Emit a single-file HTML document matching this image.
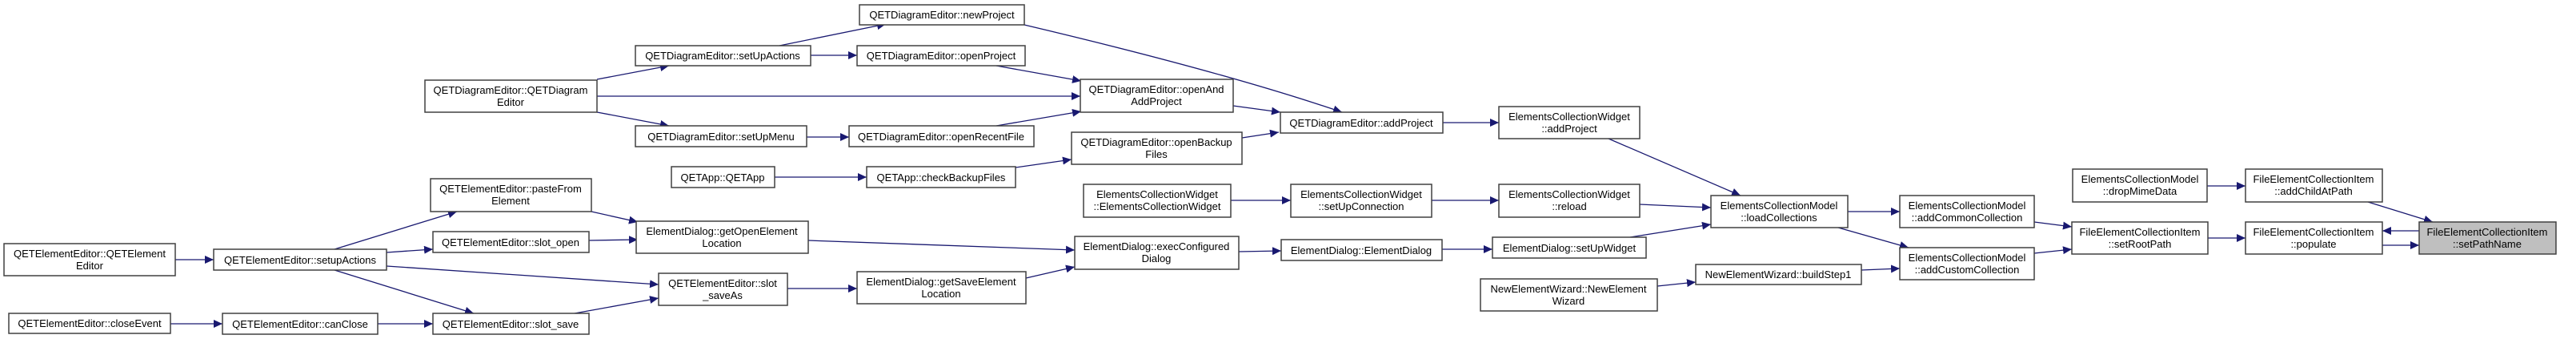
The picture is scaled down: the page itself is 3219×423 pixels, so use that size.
<!DOCTYPE html>
<html><head><meta charset="utf-8"><style>
html,body{margin:0;padding:0;background:#fff;}
svg{display:block;}
text{font-family:"Liberation Sans",Arial,sans-serif;font-size:13px;fill:#000;text-anchor:middle;}
rect{fill:#fff;stroke:#404040;stroke-width:1.5;}
.e{fill:none;stroke:#191970;stroke-width:1.3;marker-end:url(#a);}
</style></head><body>
<svg width="3219" height="423" viewBox="0 0 3219 423" xmlns="http://www.w3.org/2000/svg">
<defs><marker id="a" markerUnits="userSpaceOnUse" markerWidth="12" markerHeight="10" refX="11" refY="5" orient="auto"><path d="M0,0 L11,5 L0,10 Z" fill="#191970"/></marker></defs>

<!-- edges -->
<path class="e" d="M219,324 L267,324"/>
<path class="e" d="M213,404 L278,404"/>
<path class="e" d="M472,404 L541,404"/>
<path class="e" d="M418,311 L571,264"/>
<path class="e" d="M483,315 L541,311"/>
<path class="e" d="M483,332 L823,355"/>
<path class="e" d="M418,337 L592,391"/>
<path class="e" d="M739,264 L797,277"/>
<path class="e" d="M736,300 L797,299"/>
<path class="e" d="M718,391 L823,372"/>
<path class="e" d="M984,360 L1071,360"/>
<path class="e" d="M1282,347 L1343,333"/>
<path class="e" d="M1010,300 L1343,312"/>
<path class="e" d="M1548,314 L1601,313"/>
<path class="e" d="M746,99 L836,82"/>
<path class="e" d="M746,120 L1350,120"/>
<path class="e" d="M746,140 L836,157"/>
<path class="e" d="M974,57 L1107,30"/>
<path class="e" d="M1013,69 L1071,69"/>
<path class="e" d="M1245,82 L1351,101"/>
<path class="e" d="M1008,171 L1061,171"/>
<path class="e" d="M1245,157 L1351,139"/>
<path class="e" d="M1541,132 L1600,140"/>
<path class="e" d="M1552,172 L1598,165"/>
<path class="e" d="M1280,31 Q1530,90 1677,140"/>
<path class="e" d="M968,221 L1083,221"/>
<path class="e" d="M1269,209 L1339,199"/>
<path class="e" d="M1803,153 L1873,153"/>
<path class="e" d="M2010,173 L2175,244"/>
<path class="e" d="M1538,250 L1613,250"/>
<path class="e" d="M1789,250 L1873,250"/>
<path class="e" d="M2049,255 L2138,259"/>
<path class="e" d="M1802,311 L1865,311"/>
<path class="e" d="M2037,296 L2138,280"/>
<path class="e" d="M2309,264 L2374,264"/>
<path class="e" d="M2297,284 L2385,309"/>
<path class="e" d="M2071,357 L2119,352"/>
<path class="e" d="M2326,337 L2374,335"/>
<path class="e" d="M2542,277 L2589,283"/>
<path class="e" d="M2542,316 L2589,311"/>
<path class="e" d="M2758,232 L2806,232"/>
<path class="e" d="M2959,252 L3040,277"/>
<path class="e" d="M2759,297 L2806,297"/>
<path class="e" d="M3023,288 L2977,288"/>
<path class="e" d="M2977,306 L3023,306"/>

<!-- nodes -->
<rect x="5" y="304" width="214" height="40"/><text x="112" y="321">QETElementEditor::QETElement</text><text x="112" y="336">Editor</text>
<rect x="267" y="311" width="216" height="26"/><text x="375" y="329">QETElementEditor::setupActions</text>
<rect x="11" y="391" width="202" height="25"/><text x="112" y="408">QETElementEditor::closeEvent</text>
<rect x="278" y="391" width="194" height="26"/><text x="375" y="409">QETElementEditor::canClose</text>
<rect x="538" y="223" width="201" height="41"/><text x="638" y="240">QETElementEditor::pasteFrom</text><text x="638" y="255">Element</text>
<rect x="541" y="289" width="195" height="26"/><text x="638" y="307">QETElementEditor::slot_open</text>
<rect x="541" y="391" width="195" height="26"/><text x="638" y="409">QETElementEditor::slot_save</text>
<rect x="531" y="100" width="215" height="40"/><text x="638" y="117">QETDiagramEditor::QETDiagram</text><text x="638" y="132">Editor</text>

<rect x="1074" y="6" width="206" height="25"/><text x="1177" y="23">QETDiagramEditor::newProject</text>
<rect x="794" y="57" width="219" height="25"/><text x="903" y="74">QETDiagramEditor::setUpActions</text>
<rect x="1071" y="57" width="210" height="25"/><text x="1176" y="74">QETDiagramEditor::openProject</text>
<rect x="1350" y="99" width="191" height="41"/><text x="1445" y="116">QETDiagramEditor::openAnd</text><text x="1445" y="131">AddProject</text>
<rect x="794" y="157" width="214" height="26"/><text x="901" y="175">QETDiagramEditor::setUpMenu</text>
<rect x="1061" y="157" width="231" height="26"/><text x="1176" y="175">QETDiagramEditor::openRecentFile</text>
<rect x="1339" y="165" width="213" height="40"/><text x="1445" y="182">QETDiagramEditor::openBackup</text><text x="1445" y="197">Files</text>
<rect x="839" y="208" width="129" height="26"/><text x="903" y="226">QETApp::QETApp</text>
<rect x="1083" y="208" width="186" height="26"/><text x="1176" y="226">QETApp::checkBackupFiles</text>
<rect x="1354" y="230" width="184" height="41"/><text x="1446" y="247">ElementsCollectionWidget</text><text x="1446" y="262">::ElementsCollectionWidget</text>
<rect x="795" y="276" width="215" height="40"/><text x="902" y="293">ElementDialog::getOpenElement</text><text x="902" y="308">Location</text>
<rect x="823" y="341" width="161" height="40"/><text x="903" y="358">QETElementEditor::slot</text><text x="903" y="373">_saveAs</text>
<rect x="1071" y="339" width="211" height="40"/><text x="1176" y="356">ElementDialog::getSaveElement</text><text x="1176" y="371">Location</text>
<rect x="1343" y="295" width="205" height="41"/><text x="1445" y="312">ElementDialog::execConfigured</text><text x="1445" y="327">Dialog</text>

<rect x="1600" y="140" width="203" height="26"/><text x="1701" y="158">QETDiagramEditor::addProject</text>
<rect x="1873" y="133" width="176" height="40"/><text x="1961" y="150">ElementsCollectionWidget</text><text x="1961" y="165">::addProject</text>
<rect x="1613" y="230" width="176" height="41"/><text x="1701" y="247">ElementsCollectionWidget</text><text x="1701" y="262">::setUpConnection</text>
<rect x="1873" y="230" width="176" height="41"/><text x="1961" y="247">ElementsCollectionWidget</text><text x="1961" y="262">::reload</text>
<rect x="2138" y="244" width="171" height="40"/><text x="2223" y="261">ElementsCollectionModel</text><text x="2223" y="276">::loadCollections</text>
<rect x="1601" y="299" width="201" height="26"/><text x="1701" y="317">ElementDialog::ElementDialog</text>
<rect x="1865" y="296" width="192" height="26"/><text x="1961" y="314">ElementDialog::setUpWidget</text>
<rect x="1850" y="348" width="221" height="40"/><text x="1960" y="365">NewElementWizard::NewElement</text><text x="1960" y="380">Wizard</text>
<rect x="2119" y="330" width="207" height="25"/><text x="2222" y="347">NewElementWizard::buildStep1</text>

<rect x="2374" y="244" width="168" height="40"/><text x="2458" y="261">ElementsCollectionModel</text><text x="2458" y="276">::addCommonCollection</text>
<rect x="2374" y="309" width="168" height="40"/><text x="2458" y="326">ElementsCollectionModel</text><text x="2458" y="341">::addCustomCollection</text>
<rect x="2590" y="211" width="168" height="41"/><text x="2674" y="228">ElementsCollectionModel</text><text x="2674" y="243">::dropMimeData</text>
<rect x="2806" y="211" width="171" height="41"/><text x="2891" y="228">FileElementCollectionItem</text><text x="2891" y="243">::addChildAtPath</text>
<rect x="2589" y="277" width="170" height="40"/><text x="2674" y="294">FileElementCollectionItem</text><text x="2674" y="309">::setRootPath</text>
<rect x="2806" y="277" width="171" height="40"/><text x="2891" y="294">FileElementCollectionItem</text><text x="2891" y="309">::populate</text>
<rect x="3023" y="277" width="171" height="40" style="fill:#bfbfbf"/><text x="3108" y="294">FileElementCollectionItem</text><text x="3108" y="309">::setPathName</text>
</svg>
</body></html>
